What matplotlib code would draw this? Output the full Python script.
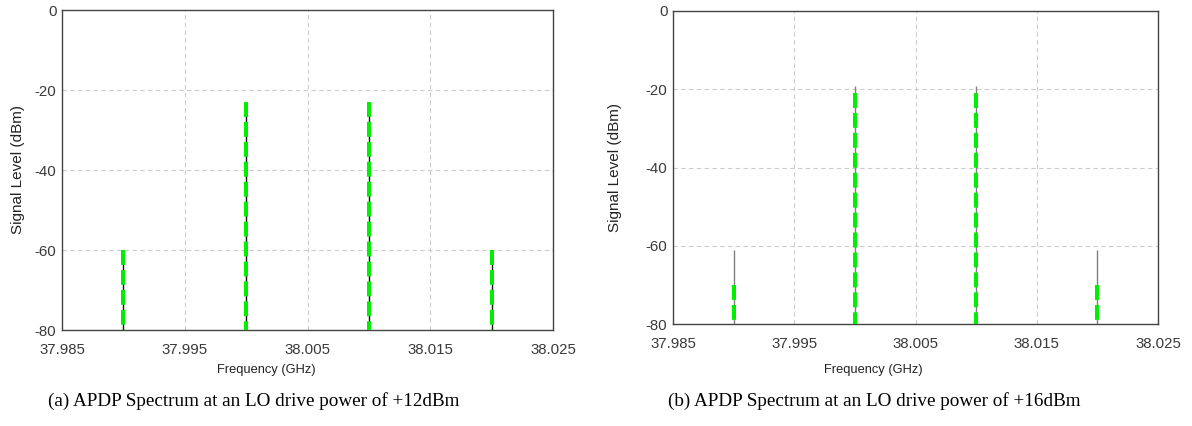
import matplotlib.pyplot as plt

# tone frequencies (GHz) shared by both sweeps
FREQS = [37.990, 38.000, 38.010, 38.020]

# LO drive +12 dBm: simulated line and measured (dashed) trace
LEVEL_12_SIM = [-60.0, -23.0, -23.0, -60.0]
LEVEL_12_MEAS = [-60.0, -23.0, -23.0, -60.0]

# LO drive +16 dBm
LEVEL_16_SIM = [-61.0, -19.2, -19.2, -61.0]
LEVEL_16_MEAS = [-70.0, -21.0, -21.0, -70.0]

XTICKS = [37.985, 37.995, 38.005, 38.015, 38.025]
YTICKS = [0, -20, -40, -60, -80]
CAPTIONS = ["(a) APDP Spectrum at an LO drive power of +12dBm",
            "(b) APDP Spectrum at an LO drive power of +16dBm"]

plt.rcParams["font.family"] = ["Liberation Sans", "DejaVu Sans"]
plt.rcParams["axes.unicode_minus"] = False

fig = plt.figure(figsize=(11.92, 4.26), dpi=100)
# axes boxes in figure fractions
boxes = [(62 / 1192, (426 - 330) / 426, 491 / 1192, 320 / 426),
         (673 / 1192, (426 - 324) / 426, 485 / 1192, 313 / 426)]
panels = [(LEVEL_12_SIM, LEVEL_12_MEAS, "#111111"),
          (LEVEL_16_SIM, LEVEL_16_MEAS, "#808080")]
# horizontal centres of the x labels and captions (figure fractions)
xlab_x = [266 / 1192, 873 / 1192]
cap_x = [254 / 1192, 874 / 1192]

for i, (box, (sim, meas, simcol), cap) in enumerate(zip(boxes, panels, CAPTIONS)):
    ax = fig.add_axes(box)
    ax.vlines(FREQS, -80, sim, color=simcol, linewidth=1.0, zorder=3)
    # dashes laid from the top of each tone downwards
    ax.vlines(FREQS, meas, -80, color="#00ee00", linewidth=2.9,
              linestyles=(0, (3.7, 1.25)), zorder=4)
    ax.set_xlim(37.985, 38.025)
    ax.set_ylim(-80, 0)
    ax.set_xticks(XTICKS)
    ax.set_xticklabels([f"{t:.3f}" for t in XTICKS])
    ax.set_yticks(YTICKS)
    ax.grid(True, color="#cccccc", linestyle=(0, (4, 3)), linewidth=0.8)
    ax.set_axisbelow(True)
    ax.tick_params(length=0, labelsize=10.8, labelcolor="#3a3a3a")
    ax.tick_params(axis="x", pad=9)
    ax.tick_params(axis="y", pad=4)
    for s in ax.spines.values():
        s.set_color("#444444")
        s.set_linewidth(1.0)
    ax.set_xlabel("Frequency (GHz)", fontsize=9.3, color="#222222")
    ax.set_ylabel("Signal Level (dBm)", fontsize=11, color="#222222")
    # place the axis labels in figure pixels
    bx0 = box[0] * 1192
    by0 = (1 - box[1] - box[3]) * 426
    ax.xaxis.set_label_coords((xlab_x[i] * 1192 - bx0) / (box[2] * 1192),
                              -(370 - (426 - box[1] * 426)) / (box[3] * 426))
    ylx = [18, 615][i]
    ax.yaxis.set_label_coords((ylx - bx0) / (box[2] * 1192), 0.5)
    ax.xaxis.label.set_verticalalignment("center")
    ax.yaxis.label.set_verticalalignment("center")
    fig.text(cap_x[i], 1 - 401 / 426, cap, ha="center", va="center",
             fontsize=13.8, family="Liberation Serif")

fig.savefig("out.png", dpi=100)
